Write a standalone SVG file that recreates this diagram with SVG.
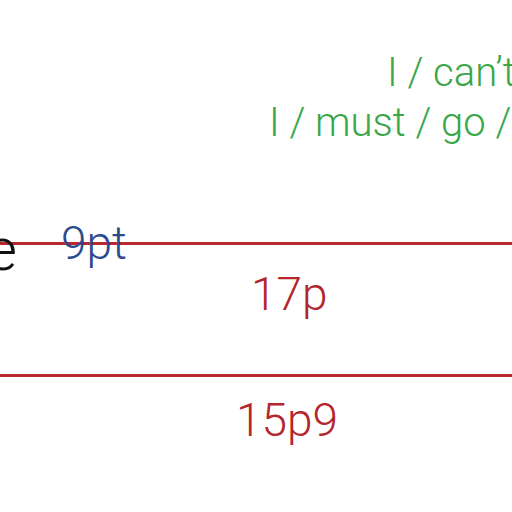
<svg xmlns="http://www.w3.org/2000/svg" width="512" height="512" viewBox="0 0 512 512">
<style>
.t{font-family:Roboto,"Liberation Sans",Arial,sans-serif;font-weight:300}
.red{fill:#b3262c}
.green{fill:#3aa648}
.blue{fill:#2c4a8e}
.rule{stroke:#b8282e;stroke-width:3}
</style>
<rect width="512" height="512" fill="#ffffff"/>
<g id="connectors">
<line class="rule" x1="0" y1="243.5" x2="512" y2="243.5"/>
<line class="rule" x1="0" y1="375.5" x2="512" y2="375.5"/>
</g>
<g id="label-e"><text class="t" x="17" y="270" font-size="60" text-anchor="end" fill="#111">e</text></g>
<g id="label-9pt"><text class="t blue" x="61" y="259" font-size="46">9pt</text></g>
<g id="label-17p"><text class="t red" x="251" y="310" font-size="46">17p</text></g>
<g id="label-15p9"><text class="t red" x="236" y="436" font-size="46">15p9</text></g>
<g id="label-cant"><text class="t green" x="387" y="86" font-size="40">I / can’t</text></g>
<g id="label-must"><text class="t green" x="269" y="136" font-size="40">I / must / go /</text></g>
</svg>
